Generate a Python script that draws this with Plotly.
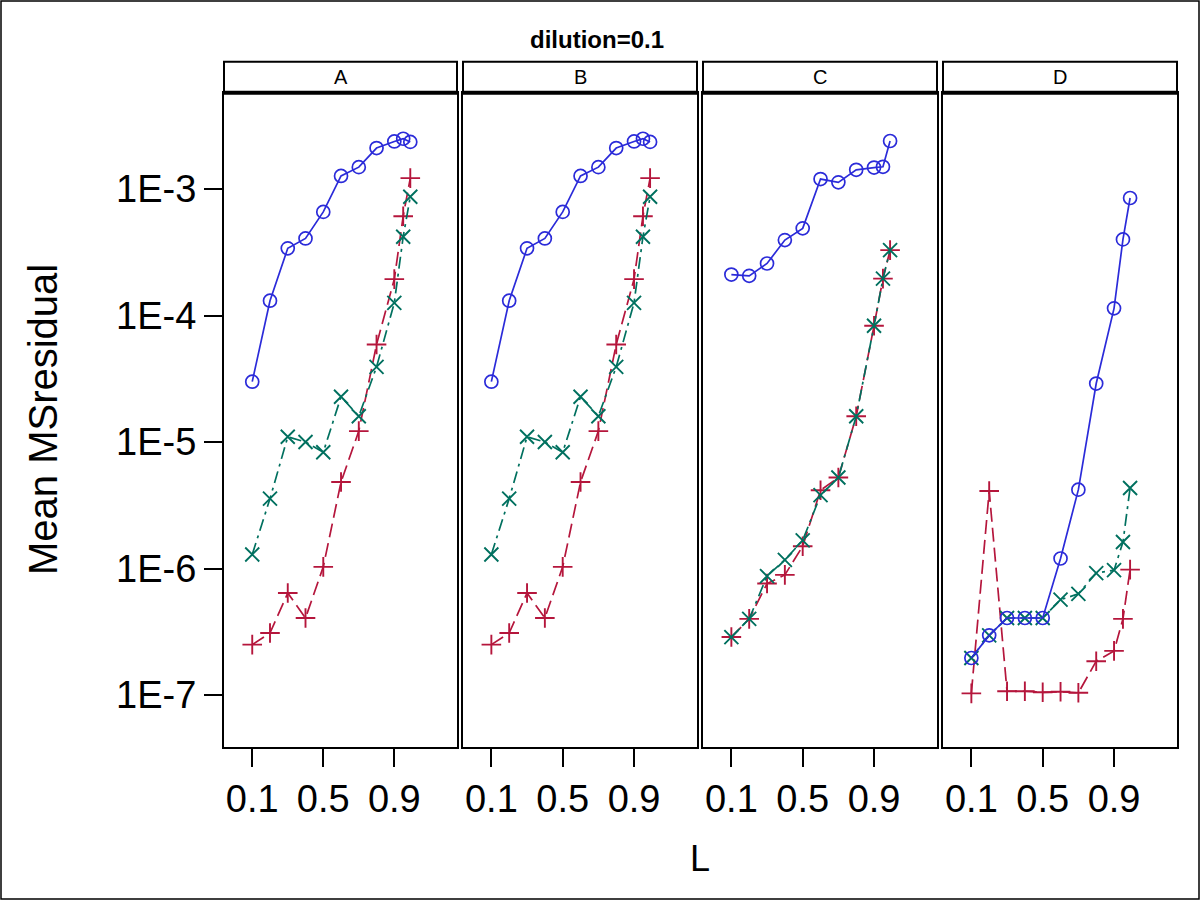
import plotly.graph_objects as go

# ---- data ----
panels = ["A", "B", "C", "D"]
L = [0.1, 0.2, 0.3, 0.4, 0.5, 0.6, 0.7, 0.8, 0.9, 0.95, 0.99]

A_blue = [3.0e-5, 1.31e-4, 3.4e-4, 4.07e-4, 6.6e-4, 1.27e-3, 1.49e-3, 2.11e-3, 2.38e-3, 2.50e-3, 2.36e-3]
A_green = [1.29e-6, 3.57e-6, 1.10e-5, 1.0e-5, 8.3e-6, 2.28e-5, 1.6e-5, 3.93e-5, 1.26e-4, 4.2e-4, 8.7e-4]
A_red = [2.5e-7, 3.09e-7, 6.4e-7, 4.06e-7, 1.03e-6, 4.83e-6, 1.22e-5, 5.9e-5, 1.94e-4, 6.1e-4, 1.22e-3]

B_blue = [3.0e-5, 1.31e-4, 3.4e-4, 4.07e-4, 6.6e-4, 1.27e-3, 1.49e-3, 2.11e-3, 2.38e-3, 2.50e-3, 2.36e-3]
B_green = [1.29e-6, 3.57e-6, 1.10e-5, 1.0e-5, 8.3e-6, 2.28e-5, 1.6e-5, 3.93e-5, 1.26e-4, 4.2e-4, 8.7e-4]
B_red = [2.5e-7, 3.09e-7, 6.4e-7, 4.06e-7, 1.03e-6, 4.83e-6, 1.22e-5, 5.9e-5, 1.94e-4, 6.1e-4, 1.22e-3]

C_blue = [2.11e-4, 2.06e-4, 2.58e-4, 3.95e-4, 4.89e-4, 1.2e-3, 1.13e-3, 1.42e-3, 1.48e-3, 1.50e-3, 2.40e-3]
C_green = [2.87e-7, 4.0e-7, 8.7e-7, 1.17e-6, 1.67e-6, 3.8e-6, 5.24e-6, 1.6e-5, 8.3e-5, 1.96e-4, 3.29e-4]
C_red = [2.87e-7, 4.0e-7, 7.6e-7, 8.9e-7, 1.5e-6, 4.16e-6, 5.24e-6, 1.6e-5, 8.3e-5, 1.96e-4, 3.29e-4]

D_blue = [1.96e-7, 2.96e-7, 4.06e-7, 4.06e-7, 4.06e-7, 1.2e-6, 4.2e-6, 2.9e-5, 1.14e-4, 4.0e-4, 8.5e-4]
D_green = [1.96e-7, 2.96e-7, 4.06e-7, 4.06e-7, 4.06e-7, 5.67e-7, 6.3e-7, 9.2e-7, 9.7e-7, 1.62e-6, 4.33e-6]
D_red = [1.03e-7, 4.1e-6, 1.07e-7, 1.07e-7, 1.05e-7, 1.06e-7, 1.04e-7, 1.85e-7, 2.23e-7, 4.0e-7, 9.8e-7]

x_ticks = [0.1, 0.5, 0.9]
x_tick_text = ["0.1", "0.5", "0.9"]
y_ticks = [1e-7, 1e-6, 1e-5, 1e-4, 1e-3]
y_tick_text = ["1E-7", "1E-6", "1E-5", "1E-4", "1E-3"]

series = {
    "A": (A_red, A_green, A_blue),
    "B": (B_red, B_green, B_blue),
    "C": (C_red, C_green, C_blue),
    "D": (D_red, D_green, D_blue),
}

# ---- styling ----
W, H = 1200, 900
RED = "#b5163c"
GREEN = "#00705f"
BLUE = "#2b2bd9"
FONT = "Liberation Sans, Arial, sans-serif"

panel_px = [(224, 457), (463, 697), (703, 937), (943, 1177)]
plot_top, plot_bot = 92.7, 746.7
head_top = 61.7

def px(x):
    return x / W

def py(y):
    return 1 - y / H

fig = go.Figure()
layout = dict(
    width=W, height=H,
    margin=dict(l=0, r=0, t=0, b=0),
    paper_bgcolor="white", plot_bgcolor="white",
    showlegend=False,
    font=dict(family=FONT, color="black"),
)

shapes = []
annotations = []

for i, p in enumerate(panels):
    n = "" if i == 0 else str(i + 1)
    xa, ya = "x" + n, "y" + n
    red, green, blue = series[p]
    fig.add_trace(go.Scatter(x=L, y=red, xaxis=xa, yaxis=ya, mode="lines+markers",
                             line=dict(color=RED, width=1.7, dash="14px,6px"),
                             marker=dict(symbol="cross-thin-open", size=14, color=RED,
                                         line=dict(color=RED, width=1.9))))
    fig.add_trace(go.Scatter(x=L, y=green, xaxis=xa, yaxis=ya, mode="lines+markers",
                             line=dict(color=GREEN, width=1.7, dash="12px,5px,3px,5px"),
                             marker=dict(symbol="x-thin-open", size=14, color=GREEN,
                                         line=dict(color=GREEN, width=1.9))))
    fig.add_trace(go.Scatter(x=L, y=blue, xaxis=xa, yaxis=ya, mode="lines+markers",
                             line=dict(color=BLUE, width=1.7),
                             marker=dict(symbol="circle-open", size=13, color=BLUE,
                                         line=dict(color=BLUE, width=1.7))))
    x0, x1 = panel_px[i]
    layout["xaxis" + n] = dict(
        domain=[px(x0), px(x1)], range=[-0.059, 1.253], anchor=ya,
        tickvals=x_ticks, ticktext=x_tick_text, ticks="outside", ticklen=18,
        tickwidth=1.5, tickcolor="black", showgrid=False, zeroline=False,
        showline=True, mirror=True, linecolor="black", linewidth=2,
        tickfont=dict(size=38, family=FONT),
    )
    layout["yaxis" + n] = dict(
        domain=[py(plot_bot), py(plot_top)], type="log", range=[-7.409, -2.238],
        anchor=xa, showgrid=False, zeroline=False,
        showline=True, mirror=True, linecolor="black", linewidth=2,
        tickvals=y_ticks, ticktext=y_tick_text,
        ticks="outside" if i == 0 else "", ticklen=18, tickwidth=1.5, tickcolor="black",
        showticklabels=(i == 0), tickfont=dict(size=38, family=FONT),
    )
    # strip header
    shapes.append(dict(type="rect", xref="paper", yref="paper",
                       x0=px(x0), x1=px(x1), y0=py(plot_top), y1=py(head_top),
                       line=dict(color="black", width=2), fillcolor="white"))
    shapes.append(dict(type="line", xref="paper", yref="paper",
                       x0=px(x0), x1=px(x1), y0=py(plot_top), y1=py(plot_top),
                       line=dict(color="black", width=4)))
    annotations.append(dict(text=p, xref="paper", yref="paper",
                            x=px((x0 + x1) / 2), y=py((head_top + plot_top) / 2),
                            xanchor="center", yanchor="middle", showarrow=False,
                            font=dict(size=20, family=FONT)))

# outer border
shapes.append(dict(type="rect", xref="paper", yref="paper",
                   x0=px(1), x1=px(W - 1), y0=py(H - 1), y1=py(1),
                   line=dict(color="black", width=1.5)))

annotations.append(dict(text="<b>dilution=0.1</b>", xref="paper", yref="paper",
                        x=px(597), y=py(39), xanchor="center", yanchor="middle",
                        showarrow=False, font=dict(size=24, family=FONT)))
annotations.append(dict(text="L", xref="paper", yref="paper",
                        x=px(700), y=py(858), xanchor="center", yanchor="middle",
                        showarrow=False, font=dict(size=36, family=FONT)))
annotations.append(dict(text="Mean MSresidual", xref="paper", yref="paper",
                        x=px(43), y=py(420), xanchor="center", yanchor="middle",
                        textangle=-90, showarrow=False,
                        font=dict(size=40, family="Liberation Sans Narrow, " + FONT)))

layout["shapes"] = shapes
layout["annotations"] = annotations
fig.update_layout(**layout)
fig.write_html("out.html", config={"displayModeBar": False},
               post_script="document.body.style.margin='0px';")
